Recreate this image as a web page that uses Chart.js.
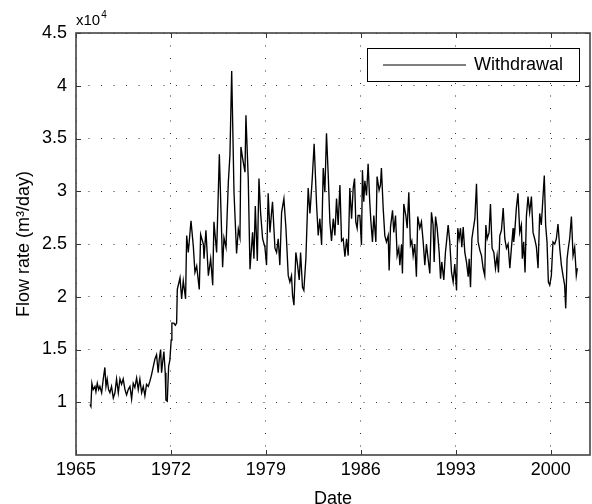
<!DOCTYPE html>
<html>
<head>
<meta charset="utf-8">
<script src="https://cdn.jsdelivr.net/npm/chart.js@4.4.0/dist/chart.umd.min.js"></script>
<style>
  body { margin: 0; background: #fff; }
  #wrap { width: 592px; height: 504px; }
</style>
</head>
<body>
<div id="wrap"><canvas id="flowChart" width="592" height="504"></canvas></div>
<script>
// Withdrawal flow rate, values in units of 10^4 m3/day
const dates = [
  1966.03, 1966.10, 1966.17, 1966.27, 1966.40, 1966.47, 1966.57, 1966.67, 1966.76, 1966.89,
  1967.01, 1967.13, 1967.21, 1967.30, 1967.40, 1967.50, 1967.62, 1967.75, 1967.87, 1967.99,
  1968.12, 1968.24, 1968.36, 1968.48, 1968.61, 1968.73, 1968.85, 1968.98, 1969.10, 1969.22,
  1969.34, 1969.47, 1969.59, 1969.71, 1969.84, 1969.96, 1970.08, 1970.20, 1970.33, 1970.45,
  1970.57, 1970.70, 1970.82, 1970.94, 1971.06, 1971.14, 1971.24, 1971.31, 1971.38, 1971.48,
  1971.58, 1971.63, 1971.73, 1971.83, 1971.92, 1972.02, 1972.07, 1972.22, 1972.32, 1972.42,
  1972.47, 1972.67, 1972.79, 1972.91, 1973.08, 1973.16, 1973.28, 1973.48, 1973.65, 1973.77,
  1973.90, 1974.09, 1974.19, 1974.39, 1974.44, 1974.58, 1974.76, 1974.93, 1975.08, 1975.17,
  1975.37, 1975.57, 1975.81, 1975.91, 1976.06, 1976.23, 1976.35, 1976.48, 1976.65, 1976.84,
  1976.97, 1977.09, 1977.16, 1977.29, 1977.46, 1977.53, 1977.70, 1977.83, 1978.02, 1978.12,
  1978.22, 1978.37, 1978.49, 1978.61, 1978.76, 1978.93,
  1979.05, 1979.17, 1979.30, 1979.42, 1979.49, 1979.67, 1979.79, 1979.91, 1980.03, 1980.16,
  1980.33, 1980.48, 1980.65, 1980.77, 1980.89, 1980.97, 1981.07, 1981.21, 1981.31, 1981.46,
  1981.56, 1981.70, 1981.80, 1981.95, 1982.12, 1982.25, 1982.42, 1982.56, 1982.74, 1982.86,
  1982.98, 1983.11, 1983.23, 1983.35, 1983.47, 1983.60, 1983.72, 1983.84, 1983.97, 1984.09,
  1984.21, 1984.33, 1984.46, 1984.58, 1984.70, 1984.83, 1984.95, 1985.07, 1985.19, 1985.32,
  1985.44, 1985.54,
  1985.63, 1985.73, 1985.80, 1985.93, 1986.05, 1986.12, 1986.22, 1986.30, 1986.42, 1986.54,
  1986.66, 1986.74, 1986.86, 1986.96, 1987.11, 1987.20, 1987.35, 1987.45, 1987.52, 1987.65,
  1987.77, 1987.89, 1988.02, 1988.09, 1988.19, 1988.34, 1988.43, 1988.56, 1988.68, 1988.80,
  1988.88, 1989.00, 1989.07, 1989.17, 1989.32, 1989.42, 1989.54, 1989.66, 1989.76, 1989.86,
  1989.98, 1990.10, 1990.20, 1990.35, 1990.47, 1990.60, 1990.72, 1990.84, 1990.96, 1991.09,
  1991.21, 1991.33,
  1991.41, 1991.51, 1991.63, 1991.78, 1991.88, 1991.97, 1992.12, 1992.24, 1992.32, 1992.44,
  1992.56, 1992.69, 1992.81, 1992.93, 1993.06, 1993.15, 1993.25, 1993.35, 1993.45, 1993.55,
  1993.67, 1993.79, 1993.92, 1993.99, 1994.09, 1994.19, 1994.28, 1994.41, 1994.53, 1994.65,
  1994.78, 1994.90, 1995.02, 1995.14, 1995.22, 1995.32, 1995.46, 1995.56, 1995.68, 1995.81,
  1995.93, 1996.05, 1996.15, 1996.25, 1996.37, 1996.50, 1996.62, 1996.74, 1996.86, 1996.99,
  1997.11, 1997.23,
  1997.27, 1997.35, 1997.47, 1997.59, 1997.72, 1997.84, 1997.91, 1998.01, 1998.11, 1998.21,
  1998.33, 1998.45, 1998.58, 1998.70, 1998.82, 1998.95, 1999.07, 1999.19, 1999.31, 1999.39,
  1999.53, 1999.63, 1999.73, 1999.83, 1999.93, 2000.05, 2000.17, 2000.30, 2000.42, 2000.54,
  2000.67, 2000.79, 2000.91, 2001.03, 2001.11, 2001.21, 2001.30, 2001.40, 2001.53, 2001.65,
  2001.77, 2001.89, 2001.97
];

const withdrawal = [
  0.98, 0.96, 1.18, 1.12, 1.15, 1.10, 1.18, 1.12, 1.15, 1.09,
  1.22, 1.33, 1.15, 1.22, 1.12, 1.09, 1.15, 1.04, 1.09, 1.22,
  1.09, 1.22, 1.17, 1.22, 1.12, 1.07, 1.12, 1.15, 1.03, 1.18,
  1.14, 1.23, 1.12, 1.22, 1.09, 1.15, 1.06, 1.17, 1.15, 1.20,
  1.26, 1.34, 1.41, 1.45, 1.28, 1.41, 1.50, 1.28, 1.37, 1.48,
  1.28, 1.02, 1.01, 1.34, 1.40, 1.59, 1.75, 1.75, 1.73, 1.75,
  2.07, 2.18, 1.98, 2.15, 1.98, 2.58, 2.42, 2.72, 2.48, 2.23,
  2.29, 2.07, 2.59, 2.50, 2.36, 2.63, 2.20, 2.36, 2.11, 2.71,
  2.42, 3.35, 2.28, 2.56, 2.47, 3.08, 3.34, 4.14, 2.99, 2.41,
  2.64, 2.56, 3.42, 3.31, 3.18, 3.72, 3.12, 2.26, 2.61, 2.36,
  2.86, 2.34, 3.12, 2.80, 2.55, 2.47,
  2.30, 2.98, 2.61, 2.80, 2.90, 2.46, 2.42, 2.55, 2.30, 2.80,
  2.93, 2.65, 2.20, 2.14, 2.20, 2.01, 1.92, 2.42, 2.33, 2.16,
  2.42, 2.09, 2.06, 2.36, 3.03, 2.79, 3.12, 3.45, 2.87, 2.58,
  2.74, 2.49, 3.22, 2.99, 3.55, 3.15, 2.71, 2.53, 2.74, 2.58,
  2.93, 2.68, 3.06, 2.53, 2.55, 2.38, 2.55, 2.39, 3.03, 2.74,
  3.03, 3.12,
  2.71, 2.65, 2.77, 2.77, 2.49, 3.20, 2.90, 3.10, 2.96, 3.26,
  2.90, 2.72, 2.52, 2.77, 2.52, 3.14, 3.01, 3.06, 3.22, 2.84,
  2.58, 2.52, 2.58, 2.25, 2.66, 2.82, 2.61, 2.77, 2.39, 2.46,
  2.30, 2.49, 2.22, 2.88, 2.77, 2.65, 2.99, 2.49, 2.53, 2.39,
  2.50, 2.19, 2.76, 2.65, 2.71, 2.52, 2.30, 2.50, 2.36, 2.22,
  2.80, 2.68,
  2.33, 2.76, 2.65, 2.42, 2.17, 2.33, 2.16, 2.42, 2.52, 2.68,
  2.52, 2.23, 2.14, 2.31, 2.06, 2.65, 2.55, 2.65, 2.47, 2.66,
  2.42, 2.33, 2.19, 2.36, 2.09, 2.55, 2.63, 2.74, 3.07, 2.52,
  2.44, 2.39, 2.27, 2.20, 2.68, 2.55, 2.61, 2.88, 2.46, 2.42,
  2.27, 2.39, 2.23, 2.58, 2.63, 2.84, 2.55, 2.46, 2.50, 2.27,
  2.47, 2.65,
  2.52, 2.61, 2.84, 2.98, 2.61, 2.68, 2.36, 2.52, 2.23, 2.76,
  2.95, 2.80, 2.95, 2.61, 2.55, 2.47, 2.27, 2.79, 2.68, 2.85,
  3.15, 2.68, 2.52, 2.14, 2.11, 2.20, 2.52, 2.50, 2.55, 2.69,
  2.46, 2.30, 2.20, 2.11, 1.89, 2.36, 2.46, 2.55, 2.76, 2.39,
  2.47, 2.20, 2.27
];

const yearTicks = [1965, 1972, 1979, 1986, 1993, 2000];
const flowTicks = [1, 1.5, 2, 2.5, 3, 3.5, 4, 4.5];
const seriesLabel = 'Withdrawal';

const FONT = "'Liberation Sans', Arial, Helvetica, sans-serif";

// MATLAB-like frame: box, inward ticks, legend box and the x10^4 multiplier
const matlabFrame = {
  id: 'matlabFrame',
  afterDraw(chart) {
    const ctx = chart.ctx;
    const a = chart.chartArea;
    const xs = chart.scales.x;
    const ys = chart.scales.y;
    ctx.save();

    // inward tick marks
    ctx.strokeStyle = '#333';
    ctx.lineWidth = 1;
    ctx.beginPath();
    yearTicks.forEach(v => {
      const px = Math.round(xs.getPixelForValue(v)) + 0.5;
      ctx.moveTo(px, a.bottom); ctx.lineTo(px, a.bottom - 5);
      ctx.moveTo(px, a.top); ctx.lineTo(px, a.top + 5);
    });
    flowTicks.forEach(v => {
      const py = Math.round(ys.getPixelForValue(v)) + 0.5;
      ctx.moveTo(a.left, py); ctx.lineTo(a.left + 5, py);
      ctx.moveTo(a.right, py); ctx.lineTo(a.right - 5, py);
    });
    ctx.stroke();

    // box
    ctx.strokeStyle = '#444';
    ctx.lineWidth = 1.6;
    ctx.strokeRect(a.left, a.top, a.right - a.left, a.bottom - a.top);

    // legend
    const ds = chart.data.datasets[0];
    const bw = 212, bh = 33;
    const bx = a.right - 11 - bw, by = a.top + 15;
    ctx.fillStyle = '#fff';
    ctx.fillRect(bx, by, bw, bh);
    ctx.strokeStyle = '#000';
    ctx.lineWidth = 1;
    ctx.strokeRect(bx + 0.5, by + 0.5, bw, bh);
    ctx.beginPath();
    ctx.moveTo(bx + 16, by + 17);
    ctx.lineTo(bx + 99, by + 17);
    ctx.strokeStyle = ds.borderColor;
    ctx.lineWidth = 1.2;
    ctx.stroke();
    ctx.fillStyle = '#000';
    ctx.font = '18px ' + FONT;
    ctx.textBaseline = 'middle';
    ctx.textAlign = 'left';
    ctx.fillText(ds.label, bx + 107, by + 17);

    // exponent label above the y axis
    ctx.textBaseline = 'alphabetic';
    ctx.font = '15px ' + FONT;
    ctx.fillText('x10', a.left, a.top - 8);
    const w = ctx.measureText('x10').width;
    ctx.font = '10px ' + FONT;
    ctx.fillText('4', a.left + w + 1, a.top - 15);

    ctx.restore();
  }
};

new Chart(document.getElementById('flowChart'), {
  type: 'line',
  data: {
    datasets: [{
      label: seriesLabel,
      data: dates.map((d, i) => ({ x: d, y: withdrawal[i] })),
      borderColor: '#000',
      borderWidth: 1.35,
      pointRadius: 0,
      tension: 0,
      fill: false
    }]
  },
  options: {
    responsive: false,
    animation: false,
    layout: { padding: { top: 33, right: 2, left: 0, bottom: 0 } },
    plugins: {
      legend: { display: false },
      tooltip: { enabled: false }
    },
    scales: {
      x: {
        type: 'linear',
        min: 1965,
        max: 2002.9,
        afterBuildTicks: s => { s.ticks = yearTicks.map(v => ({ value: v })); },
        afterFit: s => { s.height = 49; },
        ticks: {
          callback: v => String(v),
          font: { family: FONT, size: 18 },
          color: '#000',
          padding: 4,
          maxRotation: 0,
          autoSkip: false
        },
        grid: { drawTicks: false, color: '#333', lineWidth: 1 },
        border: { display: false, dash: [1, 11.5] },
        title: {
          display: true,
          text: 'Date',
          font: { family: FONT, size: 18 },
          color: '#000',
          padding: { top: 0, bottom: -6 }
        }
      },
      y: {
        type: 'linear',
        min: 0.5,
        max: 4.5,
        afterBuildTicks: s => { s.ticks = flowTicks.map(v => ({ value: v })); },
        afterFit: s => { s.width = 76; },
        ticks: {
          callback: v => String(v),
          font: { family: FONT, size: 18 },
          color: '#000',
          padding: 9
        },
        grid: { drawTicks: false, color: '#333', lineWidth: 1 },
        border: { display: false, dash: [1, 11.5] },
        title: {
          display: true,
          text: 'Flow rate (m³/day)',
          font: { family: FONT, size: 18 },
          color: '#000',
          padding: { top: 13, bottom: 0 }
        }
      }
    }
  },
  plugins: [matlabFrame]
});
</script>
</body>
</html>
